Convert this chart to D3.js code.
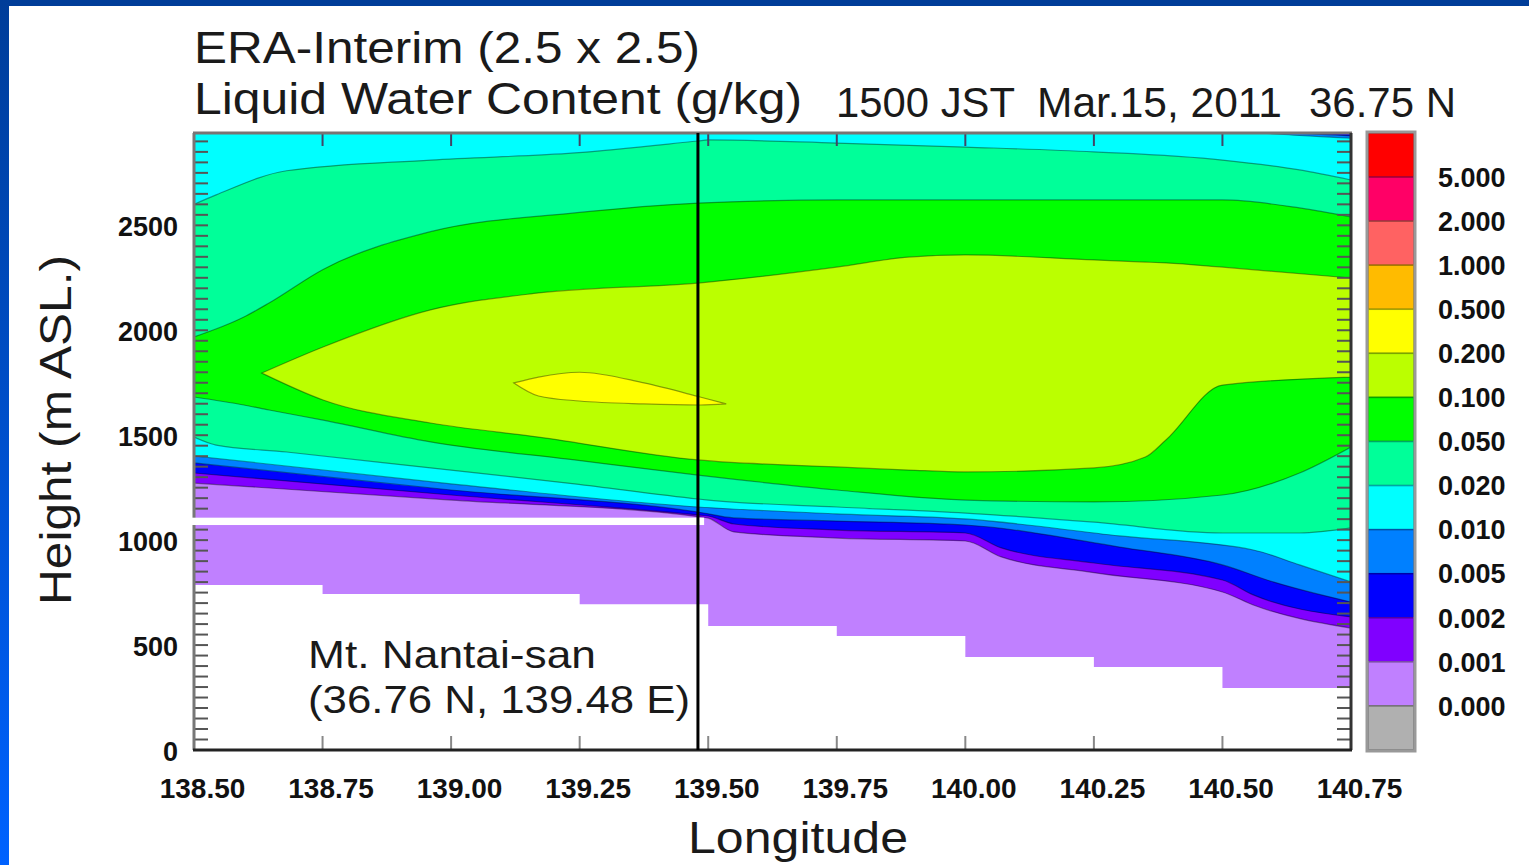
<!DOCTYPE html>
<meta charset="utf-8">
<style>
body { margin: 0; background: #fff; font-family: "Liberation Sans", Arial, sans-serif; }
.axis text { font-family: "Liberation Sans", Arial, sans-serif; font-weight: bold; fill: #111; }
.axis path { display: none; }
.band { stroke: rgba(0,0,0,0.38); stroke-width: 1.2px; }
</style>
<body>
<script src="https://cdn.jsdelivr.net/npm/d3@7"></script>
<script>
// ---- data ----
var lonTicks = [138.50, 138.75, 139.00, 139.25, 139.50, 139.75, 140.00, 140.25, 140.50, 140.75];
var heightTicks = [0, 500, 1000, 1500, 2000, 2500];

// colour bar, top to bottom
var levelColors = ["#ff0000", "#ff0066", "#ff6262", "#ffbb00", "#ffff00", "#bbff00", "#00ff00",
                   "#00ff99", "#00ffff", "#0080ff", "#0000ff", "#8000ff", "#c080ff", "#b0b0b0"];
var levelLabels = ["5.000", "2.000", "1.000", "0.500", "0.200", "0.100", "0.050",
                   "0.020", "0.010", "0.005", "0.002", "0.001", "0.000"];

// regions where LWC >= level : [lon, lower height, upper height] (m)
var band0001 = [[138.50, 1272, 2940], [139.00, 1191, 2940], [139.48, 1112, 2940], [139.50, 1105, 2940],
  [139.55, 1039, 2940], [139.75, 1010, 2940], [140.00, 996, 2940], [140.07, 920, 2940],
  [140.25, 845, 2940], [140.50, 753, 2940], [140.56, 691, 2940], [140.75, 581, 2940]];
var band0002 = [[138.50, 1320, 2940], [139.00, 1215, 2940], [139.48, 1120, 2940], [139.50, 1115, 2940],
  [139.55, 1077, 2940], [139.75, 1048, 2940], [140.00, 1034, 2940], [140.07, 963, 2940],
  [140.25, 891, 2940], [140.50, 810, 2940], [140.56, 739, 2940], [140.75, 634, 2940]];
var band0005 = [[138.50, 1368, 2940], [139.00, 1239, 2940], [139.48, 1134, 2940], [139.55, 1106, 2940],
  [139.75, 1091, 2940], [140.00, 1072, 2940], [140.30, 967, 2940], [140.50, 882, 2940],
  [140.60, 800, 2940], [140.75, 705, 2926]];
var band001 = [[138.50, 1401, 2940], [139.00, 1268, 2940], [139.48, 1158, 2940], [139.75, 1125, 2940],
  [140.00, 1101, 2940], [140.30, 1020, 2940], [140.56, 953, 2940], [140.65, 882, 2928],
  [140.75, 801, 2915]];
var band002 = [[138.50, 1491, 2600], [138.543, 1453, 2645], [138.68, 1420, 2760], [138.96, 1344, 2811],
  [139.24, 1268, 2845], [139.48, 1196, 2902], [139.50, 1191, 2907], [139.75, 1158, 2892],
  [140.00, 1129, 2873], [140.25, 1086, 2850], [140.50, 1034, 2811], [140.65, 1034, 2764],
  [140.75, 1058, 2716]];
var band005 = [[138.50, 1682, 1968], [138.597, 1644, 2063], [138.646, 1620, 2130], [138.751, 1572, 2290],
  [138.96, 1468, 2470], [139.24, 1382, 2559], [139.48, 1310, 2606], [139.75, 1239, 2621],
  [140.00, 1191, 2621], [140.25, 1182, 2621], [140.50, 1215, 2621], [140.65, 1320, 2583],
  [140.75, 1444, 2540]];
var band01 = [[138.632, 1796, 1796], [138.751, 1668, 1920], [138.96, 1558, 2097], [139.17, 1491, 2178],
  [139.48, 1382, 2225], [139.75, 1349, 2301], [139.89, 1334, 2349], [140.00, 1325, 2359],
  [140.25, 1344, 2335], [140.35, 1396, 2325], [140.39, 1477, 2321], [140.50, 1739, 2301],
  [140.75, 1777, 2249]];
var band02 = [[139.122, 1749, 1749], [139.17, 1687, 1777], [139.25, 1663, 1800], [139.375, 1649, 1749],
  [139.484, 1644, 1682], [139.535, 1649, 1649]];

var bands = [
  { data: band0001, color: "#8000ff" },
  { data: band0002, color: "#0000ff" },
  { data: band0005, color: "#0080ff" },
  { data: band001, color: "#00ffff" },
  { data: band002, color: "#00ff99" },
  { data: band005, color: "#00ff00" },
  { data: band01, color: "#bbff00" },
  { data: band02, color: "#ffff00" }
];

// model terrain (step per grid cell)
var terrainLon = [138.50, 138.75, 139.25, 139.50, 139.75, 140.00, 140.25, 140.50, 140.75];
var terrainH = [786, 743, 694, 591, 543, 443, 396, 295, 295];

var siteLon = 139.48;
var gapLon = [138.485, 139.492];
var gapH = [1072, 1107];

// ---- layout ----
var W = 1529, H = 865;
var svg = d3.select("body").append("svg").attr("width", W).attr("height", H);

var defs = svg.append("defs");
var grad = defs.append("linearGradient").attr("id", "sideBlue")
  .attr("x1", 0).attr("y1", 0).attr("x2", 0).attr("y2", 1);
grad.append("stop").attr("offset", "0%").attr("stop-color", "#003d99");
grad.append("stop").attr("offset", "100%").attr("stop-color", "#0062ff");

svg.append("rect").attr("x", 0).attr("y", 0).attr("width", W).attr("height", 6).attr("fill", "#003d99");
svg.append("rect").attr("x", 0).attr("y", 0).attr("width", 9).attr("height", H).attr("fill", "url(#sideBlue)");

var x = d3.scaleLinear().domain([138.5, 140.75]).range([194, 1351]);
var y = d3.scaleLinear().domain([0, 2940]).range([750, 133]);

defs.append("clipPath").attr("id", "plotClip").append("rect")
  .attr("x", x(138.5)).attr("y", y(2940))
  .attr("width", x(140.75) - x(138.5)).attr("height", y(0) - y(2940));

var plot = svg.append("g").attr("clip-path", "url(#plotClip)");

// lowest class everywhere above the ground
plot.append("rect")
  .attr("x", x(138.5)).attr("y", y(2940))
  .attr("width", x(140.75) - x(138.5)).attr("height", y(0) - y(2940))
  .attr("fill", "#c080ff");

var area = d3.area()
  .x(function(d) { return x(d[0]); })
  .y0(function(d) { return y(d[1]); })
  .y1(function(d) { return y(d[2]); })
  .curve(d3.curveMonotoneX);

bands.forEach(function(b) {
  plot.append("path")
    .attr("class", "band")
    .attr("d", area(b.data))
    .attr("fill", b.color);
});

// terrain
var ground = d3.area()
  .x(function(d, i) { return x(terrainLon[i]); })
  .y0(y(0) + 2)
  .y1(function(d) { return y(d); })
  .curve(d3.curveStepAfter);
plot.append("path").attr("d", ground(terrainH)).attr("fill", "#fff");

// minor ticks left / right
var minor = d3.range(50, 2940, 50);
plot.selectAll("line.minorL").data(minor).enter().append("line")
  .attr("x1", x(138.5)).attr("x2", x(138.5) + 14)
  .attr("y1", function(d) { return y(d); }).attr("y2", function(d) { return y(d); })
  .attr("stroke", "#555").attr("stroke-width", 2);
plot.selectAll("line.minorR").data(minor).enter().append("line")
  .attr("x1", x(140.75) - 14).attr("x2", x(140.75))
  .attr("y1", function(d) { return y(d); }).attr("y2", function(d) { return y(d); })
  .attr("stroke", "#555").attr("stroke-width", 2);

// top and bottom inner ticks
plot.selectAll("line.tTop").data(lonTicks).enter().append("line")
  .attr("x1", function(d) { return x(d); }).attr("x2", function(d) { return x(d); })
  .attr("y1", y(2940)).attr("y2", y(2940) + 13)
  .attr("stroke", "#446").attr("stroke-width", 2);
plot.selectAll("line.tBot").data(lonTicks).enter().append("line")
  .attr("x1", function(d) { return x(d); }).attr("x2", function(d) { return x(d); })
  .attr("y1", y(0)).attr("y2", y(0) - 14)
  .attr("stroke", "#888").attr("stroke-width", 2);

// frame
svg.append("line").attr("x1", x(138.5) - 1).attr("x2", x(140.75) + 1).attr("y1", y(2940)).attr("y2", y(2940))
  .attr("stroke", "#7a7474").attr("stroke-width", 3);
svg.append("line").attr("x1", x(138.5)).attr("x2", x(138.5)).attr("y1", y(2940)).attr("y2", y(0))
  .attr("stroke", "#777").attr("stroke-width", 3);
svg.append("line").attr("x1", x(140.75)).attr("x2", x(140.75)).attr("y1", y(2940)).attr("y2", y(0))
  .attr("stroke", "#333").attr("stroke-width", 3);
svg.append("line").attr("x1", x(138.5) - 1).attr("x2", x(140.75) + 1).attr("y1", y(0)).attr("y2", y(0))
  .attr("stroke", "#222").attr("stroke-width", 3);

// white gap and site line
svg.append("rect")
  .attr("x", x(gapLon[0])).attr("y", y(gapH[1]))
  .attr("width", x(gapLon[1]) - x(gapLon[0])).attr("height", y(gapH[0]) - y(gapH[1]))
  .attr("fill", "#fff");
svg.append("line").attr("x1", x(siteLon)).attr("x2", x(siteLon)).attr("y1", y(2940)).attr("y2", y(0))
  .attr("stroke", "#000").attr("stroke-width", 3);

// axes labels
var xAxis = d3.axisBottom(x).tickValues(lonTicks).tickFormat(d3.format(".2f")).tickSize(0).tickPadding(28);
svg.append("g").attr("class", "axis").attr("transform", "translate(0," + y(0) + ")").call(xAxis)
  .selectAll("text").attr("font-size", 28).attr("transform", "translate(8,0)");

var yAxis = d3.axisLeft(y).tickValues(heightTicks).tickFormat(d3.format("d")).tickSize(0).tickPadding(16);
svg.append("g").attr("class", "axis").attr("transform", "translate(" + x(138.5) + ",0)").call(yAxis)
  .selectAll("text").attr("font-size", 27).attr("dy", "0.38em");

// colour bar
var cb = d3.scaleLinear().domain([0, levelColors.length]).range([133, 750]);
var cbX = 1368, cbW = 46;
svg.selectAll("rect.cb").data(levelColors).enter().append("rect")
  .attr("x", cbX).attr("y", function(d, i) { return cb(i); })
  .attr("width", cbW).attr("height", function(d, i) { return cb(i + 1) - cb(i); })
  .attr("fill", function(d) { return d; })
  .attr("stroke", function(d) { return d3.color(d).darker(1.2); })
  .attr("stroke-width", 1.5);
svg.append("rect").attr("x", cbX - 1).attr("y", cb(0) - 1)
  .attr("width", cbW + 2).attr("height", cb(levelColors.length) - cb(0) + 2)
  .attr("fill", "none").attr("stroke", "#999").attr("stroke-width", 3);
svg.selectAll("text.cbl").data(levelLabels).enter().append("text")
  .attr("class", "cbl")
  .attr("x", 1438).attr("y", function(d, i) { return cb(i + 1); })
  .attr("dy", "0.36em")
  .attr("font-size", 27).attr("font-weight", "bold").attr("fill", "#111")
  .text(function(d) { return d; });

// titles and axis names
function label(txt, px, py, size, width, anchor, rot) {
  var t = svg.append("text")
    .attr("font-size", size).attr("fill", "#1a1a1a")
    .attr("text-anchor", anchor || "start")
    .attr("textLength", width).attr("lengthAdjust", "spacingAndGlyphs")
    .text(txt);
  if (rot) t.attr("transform", "translate(" + px + "," + py + ") rotate(" + rot + ")");
  else t.attr("x", px).attr("y", py);
  return t;
}
label("ERA-Interim (2.5 x 2.5)", 194, 63, 45, 506);
label("Liquid Water Content (g/kg)", 194, 114, 45, 608);
label("1500 JST", 836, 117, 43, 179);
label("Mar.15, 2011", 1037, 117, 43, 245);
label("36.75 N", 1309, 117, 43, 147);
label("Height (m ASL.)", 71, 430, 45, 350, "middle", -90);
label("Longitude", 798, 853, 45, 220, "middle");
label("Mt. Nantai-san", 308, 668, 39, 288);
label("(36.76 N, 139.48 E)", 308, 713, 39, 382);
</script>
</body>
